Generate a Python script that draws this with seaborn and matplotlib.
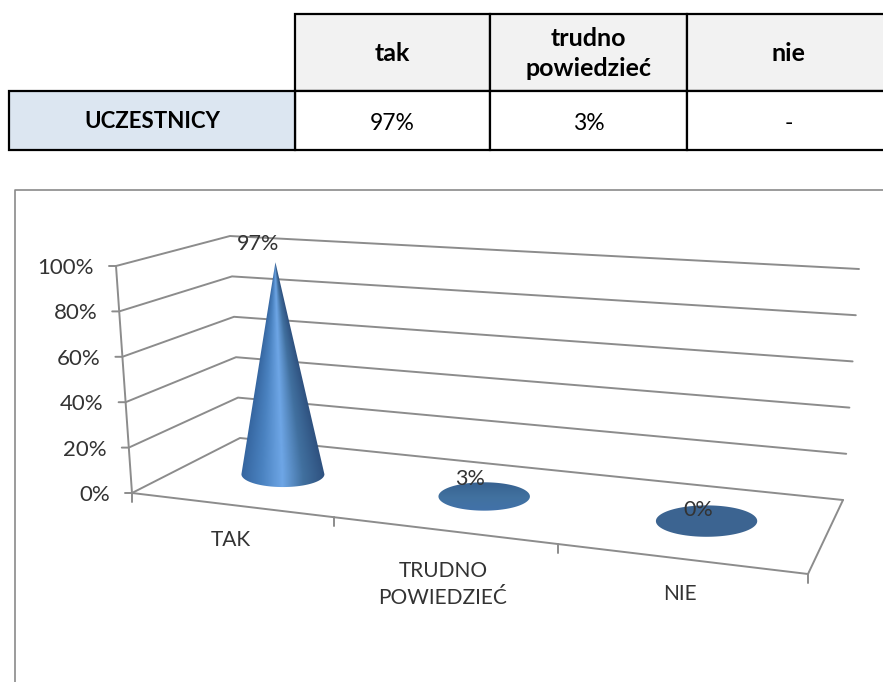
#!/usr/bin/env python
import numpy as np
import pandas as pd
import matplotlib
matplotlib.use("Agg")
import matplotlib.pyplot as plt
from matplotlib.patches import Polygon, Rectangle
import seaborn as sns

categories = ["TAK", "TRUDNO\nPOWIEDZIEĆ", "NIE"]
values = [97, 3, 0]
value_ticks = [0, 20, 40, 60, 80, 100]

table_header = ["tak", "trudno\npowiedzieć", "nie"]
table_row_label = "UCZESTNICY"
table_row = ["97%", "3%", "-"]

# chart box corners in pixels: front-left, front-right, back-right, back-left
FLOOR = [(132, 493), (808, 574), (843, 500), (240, 438)]
ROOF = [(116, 266), (815, 308), (859, 269), (230, 236)]


def homography(corners):
    src = [(0, 0), (1, 0), (1, 1), (0, 1)]
    a, b = [], []
    for (u, v), (x, y) in zip(src, corners):
        a.append([u, v, 1, 0, 0, 0, -u * x, -v * x])
        a.append([0, 0, 0, u, v, 1, -u * y, -v * y])
        b += [x, y]
    return np.append(np.linalg.solve(np.array(a, float), np.array(b, float)), 1).reshape(3, 3)


H_FLOOR = homography(FLOOR)
H_ROOF = homography(ROOF)


def project(cat, depth, val):
    # category position (0..3), depth (0..1), value in % -> pixel
    p = np.array([cat / len(categories), depth, 1.0])
    a = H_FLOOR @ p
    b = H_ROOF @ p
    a, b = a[:2] / a[2], b[:2] / b[2]
    return a + (b - a) * val / 100


def draw_table(ax):
    xs = [9, 295, 490, 687, 890]
    top, mid, bottom = 14, 91, 150
    for i in range(3):
        ax.add_patch(Rectangle((xs[i + 1], top), xs[i + 2] - xs[i + 1], mid - top,
                               fc="#f2f2f2", ec="black", lw=1.6, zorder=2))
        ax.add_patch(Rectangle((xs[i + 1], mid), xs[i + 2] - xs[i + 1], bottom - mid,
                               fc="white", ec="black", lw=1.6, zorder=2))
        cx = (xs[i + 1] + xs[i + 2]) / 2
        ax.text(cx, (top + mid) / 2 + 1, table_header[i], ha="center", va="center",
                fontsize=18, fontweight="bold", color="black", linespacing=1.4, zorder=3)
        ax.text(cx, (mid + bottom) / 2 + 2.5, table_row[i], ha="center", va="center",
                fontsize=16.5, color="black", zorder=3)
    ax.add_patch(Rectangle((xs[0], mid), xs[1] - xs[0], bottom - mid,
                           fc="#dce6f1", ec="black", lw=1.6, zorder=2))
    ax.text((xs[0] + xs[1]) / 2, (mid + bottom) / 2 + 0.5, table_row_label, ha="center",
            va="center", fontsize=16, fontweight="bold", color="black", zorder=3)


def draw_frame(ax):
    gray = "#8c8c8c"
    rows = []
    n = len(categories)
    for t in value_ticks:
        fl = project(0, 0, t)
        pts = [fl - np.array([7, 0]), fl, project(0, 1, t), project(n, 1, t)]
        for k, p in enumerate(pts):
            rows.append({"x": p[0], "y": p[1], "line": f"v{t}", "order": k})
    for c in range(n + 1):
        p = project(c, 0, 0)
        rows.append({"x": p[0], "y": p[1], "line": f"c{c}", "order": 0})
        rows.append({"x": p[0], "y": p[1] + 9, "line": f"c{c}", "order": 1})
    for name, pts in [("front", [project(0, 0, 0), project(n, 0, 0), project(n, 1, 0)]),
                      ("axis", [project(0, 0, 0), project(0, 0, 100)])]:
        for k, p in enumerate(pts):
            rows.append({"x": p[0], "y": p[1], "line": name, "order": k})
    df = pd.DataFrame(rows)
    sns.lineplot(data=df, x="x", y="y", units="line", estimator=None, sort=False,
                 color=gray, lw=1.4, ax=ax, zorder=1)
    ax.plot([15, 15, 890], [690, 190, 190], color="#8a8a8a", lw=1.2, zorder=1)


def draw_cone(ax, cat, val, tall_cmap):
    c = project(cat + 0.5, 0.5, 0)
    apex = project(cat + 0.5, 0.5, val)
    w = np.linalg.norm(project(cat + 1, 0.5, 0) - project(cat, 0.5, 0)) * 0.215
    h = w * 0.31
    th = np.linspace(0, np.pi, 60)
    ell_low = np.c_[c[0] + w * np.cos(th), c[1] + h * np.sin(th)]

    if val > 20:
        outline = np.vstack([ell_low, apex])
        x0, x1 = c[0] - w - 2, c[0] + w + 2
        y0, y1 = apex[1] - 2, c[1] + h + 2
        X, Y = np.meshgrid(np.linspace(x0, x1, 300), np.linspace(y0, y1, 500))
        frac = np.clip((Y - apex[1]) / (c[1] - apex[1]), 0.01, 1)
        T = (X - (apex[0] + (c[0] - apex[0]) * frac)) / (w * frac)
        im = ax.imshow(T, extent=(x0, x1, y1, y0), cmap=tall_cmap, vmin=-1, vmax=1,
                       aspect="auto", zorder=4, interpolation="bilinear")
        patch = Polygon(outline, closed=True, transform=ax.transData, fc="none", ec="none")
        ax.add_patch(patch)
        im.set_clip_path(patch)
    else:
        th2 = np.linspace(0, 2 * np.pi, 120)
        outline = np.c_[c[0] + w * np.cos(th2), c[1] + h * np.sin(th2)]
        x0, x1 = c[0] - w - 1, c[0] + w + 1
        y0, y1 = c[1] - h - 1, c[1] + h + 1
        shade = sns.blend_palette(["#36608f", "#41719f", "#4272aa"], as_cmap=True)
        if val == 0:
            ax.add_patch(Polygon(outline, closed=True, fc="#3c6491", ec="none", zorder=4))
        else:
            X, Y = np.meshgrid(np.linspace(x0, x1, 100), np.linspace(y0, y1, 60))
            im = ax.imshow(Y, extent=(x0, x1, y1, y0), cmap=shade, aspect="auto", zorder=4,
                           interpolation="bilinear")
            patch = Polygon(outline, closed=True, transform=ax.transData, fc="none", ec="none")
            ax.add_patch(patch)
            im.set_clip_path(patch)
    return apex


def main():
    sns.set_theme(style="white")
    plt.rcParams["font.family"] = ["Lato", "DejaVu Sans"]

    fig = plt.figure(figsize=(8.83, 6.82), dpi=100)
    ax = fig.add_axes([0, 0, 1, 1])

    tall_cmap = sns.blend_palette(["#35659f", "#4a82c0", "#6ea6e6", "#41709f", "#2f5280"], as_cmap=True)

    draw_table(ax)
    draw_frame(ax)

    n = len(categories)
    for i in range(n):
        apex = draw_cone(ax, i, values[i], tall_cmap)
        off = -18 if values[i] > 20 else -11
        dx = -17 if values[i] > 20 else (-14 if values[i] > 0 else -8)
        ax.text(apex[0] + dx, apex[1] + off, f"{values[i]}%", ha="center", va="center",
                fontsize=15.5, color="#333333", zorder=6)
        low = project(i + 0.5, 0, 0)
        ax.text(low[0], low[1] + 25 + 6 * categories[i].count("\n"), categories[i], ha="center",
                va="top", fontsize=15, color="#333333", linespacing=1.4, zorder=6)

    for t in value_ticks:
        p = project(0, 0, t)
        ax.text(p[0] - 22, p[1] + 2, f"{t}%", ha="right", va="center", fontsize=16,
                color="#333333", zorder=6)

    ax.set_xlim(0, 883)
    ax.set_ylim(682, 0)
    ax.set_xlabel("")
    ax.set_ylabel("")
    ax.axis("off")
    fig.savefig("out.png", dpi=100)


if __name__ == "__main__":
    main()
